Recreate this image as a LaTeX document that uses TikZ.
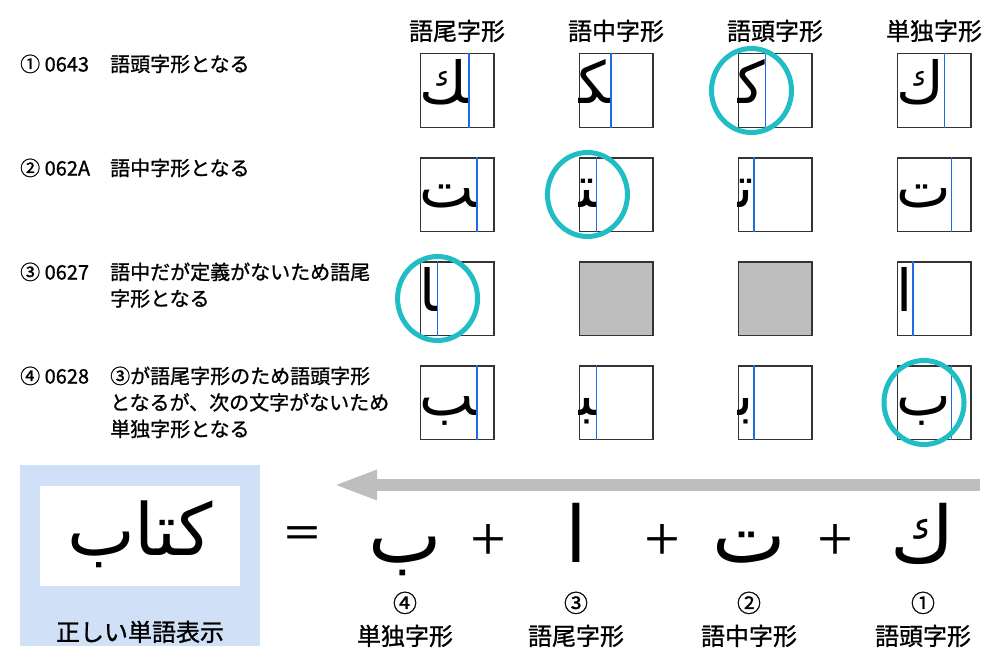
\documentclass[tikz,border=0pt]{standalone}
\usepackage{fontspec}
\setmainfont{Noto Sans CJK JP}[FakeBold=1]
\newfontfamily\arabicfont[Script=Arabic]{DejaVu Sans}
\TeXXeTstate=1
\usepackage{tikz}
\usetikzlibrary{arrows.meta,positioning,calc}
\definecolor{cellline}{RGB}{51,51,51}
\definecolor{advblue}{RGB}{30,110,225}
\definecolor{hiteal}{RGB}{32,189,196}
\definecolor{shadegrey}{RGB}{190,190,190}
\definecolor{wordblue}{RGB}{207,224,247}
\tikzset{
  % 1 unit = 1px of the layout, y runs down
  every picture/.style={x=1pt, y=-1pt},
  % column headers and labels
  head/.style={font=\fontsize{24}{24}\selectfont, inner sep=0pt, anchor=base},
  % row notes
  note/.style={font=\fontsize{20}{26.5}\selectfont, inner sep=0pt, anchor=base west, align=left},
  % table cell
  cellbox/.style={draw=cellline, line width=1.5pt, minimum size=73.5pt, inner sep=0pt},
  nocell/.style={cellbox, fill=shadegrey},
  % one glyph form in a cell
  glyph/.style={font=\arabicfont\fontsize{58}{58}\selectfont, inner sep=0pt, anchor=base west},
  % advance width line
  advline/.style={draw=advblue, line width=1.5pt},
  % chosen form
  pick/.style={draw=hiteal, line width=5pt},
  % word panel
  wordbg/.style={fill=wordblue, minimum width=240pt, minimum height=181pt, inner sep=0pt},
  wordbox/.style={fill=white, minimum width=200pt, minimum height=100pt, inner sep=0pt},
  % letters and signs of the sum
  letter/.style={font=\arabicfont\fontsize{78}{78}\selectfont, inner sep=0pt, anchor=base},
  sign/.style={font=\fontsize{40}{40}\selectfont, inner sep=0pt},
  numlab/.style={font=\fontsize{24}{24}\selectfont, inner sep=0pt, anchor=base},
  % reading direction
  readarr/.style={-{Triangle[length=44pt, width=27pt]}, line width=12pt, shadegrey},
}
\begin{document}
\begin{tikzpicture}
  \useasboundingbox (0,0) rectangle (1000,666);

  % Column headers
  \foreach \col/\cx/\name in {1/457/語尾字形, 2/616/語中字形, 3/775/語頭字形, 4/934/単独字形}
    \node[head] (h\col) at (\cx,40) {\name};

  % Cells
  \foreach \row/\cy in {1/90.5, 2/194.5, 3/298.5, 4/402.5}
    \foreach \col/\cx in {1/457, 2/616, 3/775, 4/934} {
      \pgfmathtruncatemacro\isnone{(\row==3)&&(\col>1)&&(\col<4)}
      \ifnum\isnone=1
        \node[nocell] (b\row\col) at (\cx,\cy) {};
      \else
        \node[cellbox] (b\row\col) at (\cx,\cy) {};
      \fi
    }

  % Glyph forms with their advance
  \foreach \row/\col/\ch in {1/1/^^^^feda, 1/2/^^^^fedc, 1/3/^^^^fedb, 1/4/^^^^fed9,
      2/1/^^^^fe96, 2/2/^^^^fe98, 2/3/^^^^fe97, 2/4/^^^^fe95,
      3/1/^^^^fe8e, 3/4/^^^^fe8d,
      4/1/^^^^fe90, 4/2/^^^^fe92, 4/3/^^^^fe91, 4/4/^^^^fe8f} {
    \begin{scope}
      \clip (b\row\col.south west) rectangle (b\row\col.north east);
      \node[glyph] (g\row\col) at ([yshift=-12.5pt]b\row\col.west) {\beginR\ch\endR};
    \end{scope}
    \draw[advline] (g\row\col.east |- b\row\col.north) -- (g\row\col.east |- b\row\col.south);
  }

  % Chosen forms
  \draw[pick] ($(b13.west)!0.5!(g13.east |- b13.west)$) ellipse [x radius=40pt, y radius=42pt];
  \draw[pick] ($(b22.west)!0.5!(g22.east |- b22.west)$) ellipse [x radius=40pt, y radius=42pt];
  \draw[pick] (g31.east |- b31.west) ellipse [x radius=40pt, y radius=42pt];
  \draw[pick] ($(b44.west)!0.5!(g44.east |- b44.west)$) ellipse [x radius=40pt, y radius=42pt];

  % Row notes (\nl = extra lines below the first)
  \foreach \row/\by/\nl/\code/\txt in {1/71.5/0/{① 0643}/{語頭字形となる},
      2/175.5/0/{② 062A}/{語中字形となる},
      3/279.5/1/{③ 0627}/{語中だが定義がないため語尾\\字形となる},
      4/383.5/2/{④ 0628}/{③が語尾字形のため語頭字形\\となるが、次の文字がないため\\単独字形となる}} {
    \node[note] (n\row) at (20,\by) {\code};
    \node[note] (t\row) at (110,{\by+26.5*\nl}) {\txt};
  }

  % Correct word
  \node[wordbg] (panel) at (140,555.5) {};
  \node[wordbox] (wordbox) at (140,536) {};
  \node[letter, font=\arabicfont\fontsize{72}{72}\selectfont] (word) at (140,555) {\beginR كتاب\endR};
  \node[head] (wordlab) at (140,641) {正しい単語表示};

  % Reading direction
  \coordinate (arrtail) at (980,485);
  \coordinate (arrtip) at (333,485);
  \draw[readarr] (arrtail) -- (arrtip);

  % Sum of single letters
  \node[sign] (eq) at (302,537) {＝};
  \foreach \i/\cx/\ch/\num/\name in {4/405/ب/④/単独字形, 3/576/ا/③/語尾字形,
      2/749/ت/②/語中字形, 1/923/ك/①/語頭字形} {
    \node[letter] (l\i) at (\cx,562) {\beginR\ch\endR};
    \node[numlab] (k\i) at (\cx,612) {\num};
    \node[head] (f\i) at (\cx,645) {\name};
  }
  \foreach \i/\cx in {1/488, 2/662, 3/835}
    \node[sign] (p\i) at (\cx,539) {＋};
\end{tikzpicture}
\end{document}
